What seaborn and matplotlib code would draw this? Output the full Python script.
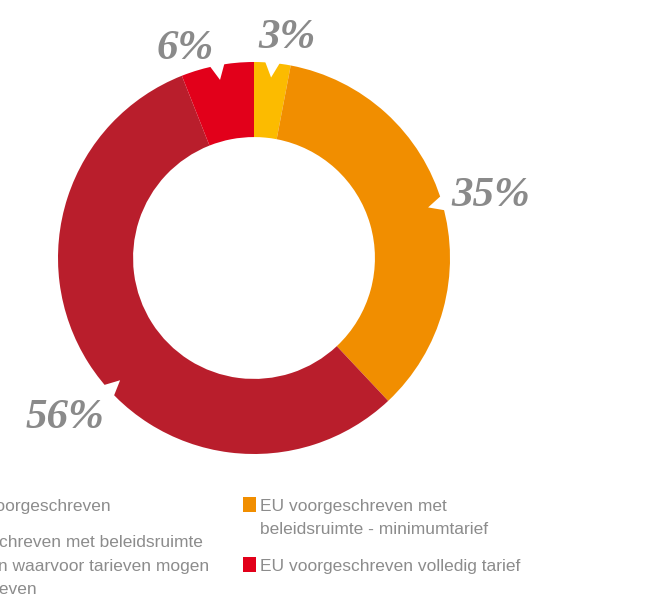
import numpy as np
import matplotlib
matplotlib.use("Agg")
import matplotlib.pyplot as plt
import seaborn as sns
from matplotlib.patches import Polygon, Rectangle

# data, clockwise from the top
shares = [3, 35, 56, 6]
labels_pct = ["3%", "35%", "56%", "6%"]
colors = ["#FCBB00", "#F18E00", "#B91E2C", "#E2001A"]
legend_labels = [
    "Nationaal voorgeschreven",
    "EU voorgeschreven met beleidsruimte\n- belastingen waarvoor tarieven mogen\nworden geheven",
    "EU voorgeschreven met\nbeleidsruimte - minimumtarief",
    "EU voorgeschreven volledig tarief",
]
legend_colors = [colors[0], colors[2], colors[1], colors[3]]

# label placement tweaks (radius, angle nudge in degrees)
lab_r = [1.16, 1.255, 1.25, 1.145]
lab_nudge = [3, 0.5, -7, -7]
notch_nudge = [0, 0, -10, 0]

sns.set_theme(style="white")
W, H = 654, 599
fig = plt.figure(figsize=(W / 100, H / 100), dpi=100)
cx, cy, R = 254, 258, 196
ax = fig.add_axes([(cx - R) / W, (H - cy - R) / H, 2 * R / W, 2 * R / H])

ax.pie(shares, colors=colors, startangle=90, counterclock=False, radius=1,
       wedgeprops=dict(width=0.383, edgecolor="none", linewidth=0))
ax.set_xlim(-1, 1)
ax.set_ylim(-1, 1)
ax.set_axis_off()

# notches and labels
cum = np.cumsum([0] + shares)
for i, s in enumerate(shares):
    mid = (cum[i] + s / 2) / 100 * 360
    a = np.deg2rad(90 - mid - notch_nudge[i])
    da = np.deg2rad(2.8)
    tri = [(1.03 * np.cos(a - da), 1.03 * np.sin(a - da)),
           (1.03 * np.cos(a + da), 1.03 * np.sin(a + da)),
           (0.925 * np.cos(a), 0.925 * np.sin(a))]
    ax.add_patch(Polygon(tri, closed=True, facecolor="white", edgecolor="none",
                         clip_on=False, zorder=3))
    b = np.deg2rad(90 - mid - lab_nudge[i])
    ax.text(lab_r[i] * np.cos(b), lab_r[i] * np.sin(b), labels_pct[i],
            ha="center", va="center_baseline", fontsize=31, color="#8A8A8A",
            family="Liberation Serif", style="italic", weight="bold",
            clip_on=False)

# legend (two columns, left one runs off the canvas)
col_x = [-92, 260]
col_y = [511, 511]
line_h = 23.3
gap = 13
for j, (lab, col) in enumerate(zip(legend_labels, legend_colors)):
    c = j // 2
    y = col_y[c]
    fig.patches.append(Rectangle(((col_x[c] - 17) / W, 1 - (y + 1) / H), 13 / W, 15 / H,
                                 transform=fig.transFigure, facecolor=col,
                                 edgecolor="none"))
    for line in lab.split("\n"):
        fig.text(col_x[c] / W, 1 - y / H, line, ha="left", va="baseline",
                 fontsize=12.5, color="#8C8C8C", family="Liberation Sans")
        y += line_h
    col_y[c] = y + gap

fig.savefig("out.png", dpi=100)
